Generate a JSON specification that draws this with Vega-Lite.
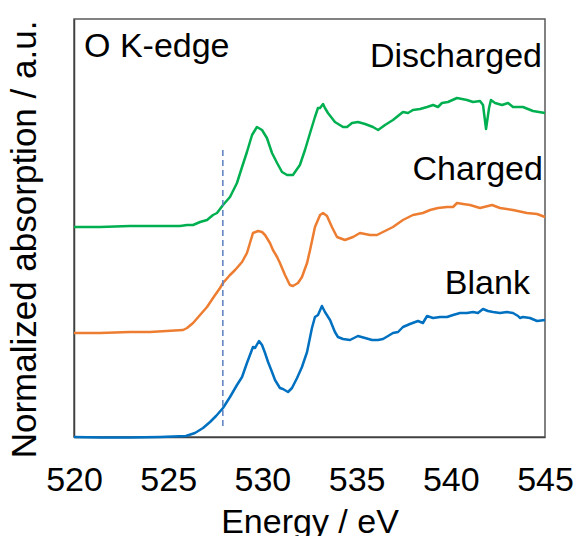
{
  "$schema": "https://vega.github.io/schema/vega-lite/v6.json",
  "width": 471,
  "height": 418,
  "autosize": {"type": "none"},
  "padding": {"left": 74, "top": 19, "right": 32, "bottom": 99},
  "background": "white",
  "config": {
    "font": "Liberation Sans",
    "view": {"stroke": "#595959", "strokeWidth": 1.5}
  },
  "datasets": {
    "curves": [
      {"series": "Blank", "e": 520.00, "v": 0.00},
      {"series": "Blank", "e": 521.38, "v": -0.005},
      {"series": "Blank", "e": 522.97, "v": -0.005},
      {"series": "Blank", "e": 524.56, "v": 0.00},
      {"series": "Blank", "e": 525.94, "v": 0.01},
      {"series": "Blank", "e": 526.42, "v": 0.04},
      {"series": "Blank", "e": 526.85, "v": 0.09},
      {"series": "Blank", "e": 527.22, "v": 0.15},
      {"series": "Blank", "e": 527.54, "v": 0.21},
      {"series": "Blank", "e": 527.91, "v": 0.29},
      {"series": "Blank", "e": 528.28, "v": 0.40},
      {"series": "Blank", "e": 528.65, "v": 0.52},
      {"series": "Blank", "e": 528.92, "v": 0.60},
      {"series": "Blank", "e": 529.18, "v": 0.74},
      {"series": "Blank", "e": 529.34, "v": 0.82},
      {"series": "Blank", "e": 529.50, "v": 0.90},
      {"series": "Blank", "e": 529.61, "v": 0.89},
      {"series": "Blank", "e": 529.82, "v": 0.96},
      {"series": "Blank", "e": 529.98, "v": 0.92},
      {"series": "Blank", "e": 530.14, "v": 0.84},
      {"series": "Blank", "e": 530.30, "v": 0.75},
      {"series": "Blank", "e": 530.51, "v": 0.65},
      {"series": "Blank", "e": 530.67, "v": 0.57},
      {"series": "Blank", "e": 530.93, "v": 0.49},
      {"series": "Blank", "e": 531.09, "v": 0.48},
      {"series": "Blank", "e": 531.36, "v": 0.45},
      {"series": "Blank", "e": 531.57, "v": 0.49},
      {"series": "Blank", "e": 531.84, "v": 0.59},
      {"series": "Blank", "e": 532.10, "v": 0.70},
      {"series": "Blank", "e": 532.37, "v": 0.85},
      {"series": "Blank", "e": 532.63, "v": 1.09},
      {"series": "Blank", "e": 532.79, "v": 1.20},
      {"series": "Blank", "e": 532.95, "v": 1.22},
      {"series": "Blank", "e": 533.16, "v": 1.31},
      {"series": "Blank", "e": 533.32, "v": 1.25},
      {"series": "Blank", "e": 533.59, "v": 1.17},
      {"series": "Blank", "e": 533.85, "v": 1.05},
      {"series": "Blank", "e": 534.01, "v": 1.00},
      {"series": "Blank", "e": 534.28, "v": 0.98},
      {"series": "Blank", "e": 534.65, "v": 0.97},
      {"series": "Blank", "e": 535.07, "v": 1.01},
      {"series": "Blank", "e": 535.45, "v": 0.99},
      {"series": "Blank", "e": 535.82, "v": 0.97},
      {"series": "Blank", "e": 536.14, "v": 0.97},
      {"series": "Blank", "e": 536.40, "v": 0.98},
      {"series": "Blank", "e": 536.67, "v": 1.01},
      {"series": "Blank", "e": 536.93, "v": 1.04},
      {"series": "Blank", "e": 537.20, "v": 1.05},
      {"series": "Blank", "e": 537.46, "v": 1.10},
      {"series": "Blank", "e": 537.83, "v": 1.13},
      {"series": "Blank", "e": 538.26, "v": 1.16},
      {"series": "Blank", "e": 538.52, "v": 1.14},
      {"series": "Blank", "e": 538.74, "v": 1.21},
      {"series": "Blank", "e": 539.06, "v": 1.19},
      {"series": "Blank", "e": 539.43, "v": 1.20},
      {"series": "Blank", "e": 539.80, "v": 1.20},
      {"series": "Blank", "e": 540.12, "v": 1.22},
      {"series": "Blank", "e": 540.49, "v": 1.24},
      {"series": "Blank", "e": 540.86, "v": 1.24},
      {"series": "Blank", "e": 541.18, "v": 1.25},
      {"series": "Blank", "e": 541.44, "v": 1.24},
      {"series": "Blank", "e": 541.71, "v": 1.28},
      {"series": "Blank", "e": 541.97, "v": 1.26},
      {"series": "Blank", "e": 542.24, "v": 1.25},
      {"series": "Blank", "e": 542.61, "v": 1.24},
      {"series": "Blank", "e": 542.98, "v": 1.25},
      {"series": "Blank", "e": 543.30, "v": 1.24},
      {"series": "Blank", "e": 543.57, "v": 1.21},
      {"series": "Blank", "e": 543.67, "v": 1.19},
      {"series": "Blank", "e": 543.83, "v": 1.20},
      {"series": "Blank", "e": 544.20, "v": 1.19},
      {"series": "Blank", "e": 544.58, "v": 1.16},
      {"series": "Blank", "e": 545.00, "v": 1.17},

      {"series": "Charged", "e": 520.00, "v": 1.04},
      {"series": "Charged", "e": 521.38, "v": 1.04},
      {"series": "Charged", "e": 522.97, "v": 1.05},
      {"series": "Charged", "e": 524.03, "v": 1.05},
      {"series": "Charged", "e": 525.79, "v": 1.07},
      {"series": "Charged", "e": 526.00, "v": 1.09},
      {"series": "Charged", "e": 526.32, "v": 1.14},
      {"series": "Charged", "e": 526.69, "v": 1.22},
      {"series": "Charged", "e": 527.06, "v": 1.30},
      {"series": "Charged", "e": 527.38, "v": 1.39},
      {"series": "Charged", "e": 527.75, "v": 1.49},
      {"series": "Charged", "e": 527.91, "v": 1.54},
      {"series": "Charged", "e": 528.28, "v": 1.62},
      {"series": "Charged", "e": 528.55, "v": 1.67},
      {"series": "Charged", "e": 528.92, "v": 1.75},
      {"series": "Charged", "e": 529.18, "v": 1.84},
      {"series": "Charged", "e": 529.34, "v": 1.94},
      {"series": "Charged", "e": 529.50, "v": 2.04},
      {"series": "Charged", "e": 529.77, "v": 2.06},
      {"series": "Charged", "e": 529.98, "v": 2.05},
      {"series": "Charged", "e": 530.14, "v": 2.02},
      {"series": "Charged", "e": 530.40, "v": 1.94},
      {"series": "Charged", "e": 530.56, "v": 1.87},
      {"series": "Charged", "e": 530.78, "v": 1.80},
      {"series": "Charged", "e": 530.93, "v": 1.74},
      {"series": "Charged", "e": 531.20, "v": 1.62},
      {"series": "Charged", "e": 531.46, "v": 1.52},
      {"series": "Charged", "e": 531.62, "v": 1.51},
      {"series": "Charged", "e": 531.89, "v": 1.54},
      {"series": "Charged", "e": 532.10, "v": 1.60},
      {"series": "Charged", "e": 532.37, "v": 1.74},
      {"series": "Charged", "e": 532.53, "v": 1.87},
      {"series": "Charged", "e": 532.79, "v": 2.10},
      {"series": "Charged", "e": 533.06, "v": 2.22},
      {"series": "Charged", "e": 533.22, "v": 2.24},
      {"series": "Charged", "e": 533.43, "v": 2.21},
      {"series": "Charged", "e": 533.69, "v": 2.10},
      {"series": "Charged", "e": 533.96, "v": 2.00},
      {"series": "Charged", "e": 534.38, "v": 1.97},
      {"series": "Charged", "e": 534.81, "v": 2.00},
      {"series": "Charged", "e": 535.18, "v": 2.04},
      {"series": "Charged", "e": 535.71, "v": 2.02},
      {"series": "Charged", "e": 536.08, "v": 2.02},
      {"series": "Charged", "e": 536.40, "v": 2.05},
      {"series": "Charged", "e": 536.93, "v": 2.10},
      {"series": "Charged", "e": 537.46, "v": 2.17},
      {"series": "Charged", "e": 537.99, "v": 2.22},
      {"series": "Charged", "e": 538.52, "v": 2.24},
      {"series": "Charged", "e": 538.90, "v": 2.27},
      {"series": "Charged", "e": 539.32, "v": 2.29},
      {"series": "Charged", "e": 539.80, "v": 2.30},
      {"series": "Charged", "e": 540.12, "v": 2.30},
      {"series": "Charged", "e": 540.33, "v": 2.34},
      {"series": "Charged", "e": 540.65, "v": 2.33},
      {"series": "Charged", "e": 541.02, "v": 2.32},
      {"series": "Charged", "e": 541.55, "v": 2.29},
      {"series": "Charged", "e": 542.19, "v": 2.32},
      {"series": "Charged", "e": 542.61, "v": 2.29},
      {"series": "Charged", "e": 543.30, "v": 2.27},
      {"series": "Charged", "e": 544.04, "v": 2.24},
      {"series": "Charged", "e": 544.58, "v": 2.23},
      {"series": "Charged", "e": 545.00, "v": 2.20},

      {"series": "Discharged", "e": 520.00, "v": 2.10},
      {"series": "Discharged", "e": 521.38, "v": 2.10},
      {"series": "Discharged", "e": 522.97, "v": 2.11},
      {"series": "Discharged", "e": 524.56, "v": 2.11},
      {"series": "Discharged", "e": 525.63, "v": 2.11},
      {"series": "Discharged", "e": 526.00, "v": 2.12},
      {"series": "Discharged", "e": 526.32, "v": 2.12},
      {"series": "Discharged", "e": 526.69, "v": 2.15},
      {"series": "Discharged", "e": 527.06, "v": 2.17},
      {"series": "Discharged", "e": 527.38, "v": 2.22},
      {"series": "Discharged", "e": 527.59, "v": 2.24},
      {"series": "Discharged", "e": 527.91, "v": 2.32},
      {"series": "Discharged", "e": 528.28, "v": 2.40},
      {"series": "Discharged", "e": 528.65, "v": 2.54},
      {"series": "Discharged", "e": 528.92, "v": 2.70},
      {"series": "Discharged", "e": 529.18, "v": 2.85},
      {"series": "Discharged", "e": 529.45, "v": 3.02},
      {"series": "Discharged", "e": 529.71, "v": 3.10},
      {"series": "Discharged", "e": 529.98, "v": 3.07},
      {"series": "Discharged", "e": 530.24, "v": 2.99},
      {"series": "Discharged", "e": 530.51, "v": 2.84},
      {"series": "Discharged", "e": 530.78, "v": 2.74},
      {"series": "Discharged", "e": 531.04, "v": 2.65},
      {"series": "Discharged", "e": 531.31, "v": 2.62},
      {"series": "Discharged", "e": 531.62, "v": 2.62},
      {"series": "Discharged", "e": 531.99, "v": 2.72},
      {"series": "Discharged", "e": 532.26, "v": 2.87},
      {"series": "Discharged", "e": 532.53, "v": 3.04},
      {"series": "Discharged", "e": 532.79, "v": 3.20},
      {"series": "Discharged", "e": 532.95, "v": 3.29},
      {"series": "Discharged", "e": 533.06, "v": 3.29},
      {"series": "Discharged", "e": 533.22, "v": 3.33},
      {"series": "Discharged", "e": 533.32, "v": 3.29},
      {"series": "Discharged", "e": 533.48, "v": 3.24},
      {"series": "Discharged", "e": 533.85, "v": 3.15},
      {"series": "Discharged", "e": 534.28, "v": 3.10},
      {"series": "Discharged", "e": 534.49, "v": 3.10},
      {"series": "Discharged", "e": 534.76, "v": 3.14},
      {"series": "Discharged", "e": 535.07, "v": 3.15},
      {"series": "Discharged", "e": 535.45, "v": 3.13},
      {"series": "Discharged", "e": 535.87, "v": 3.10},
      {"series": "Discharged", "e": 536.14, "v": 3.07},
      {"series": "Discharged", "e": 536.51, "v": 3.12},
      {"series": "Discharged", "e": 536.93, "v": 3.17},
      {"series": "Discharged", "e": 537.46, "v": 3.25},
      {"series": "Discharged", "e": 537.73, "v": 3.24},
      {"series": "Discharged", "e": 537.99, "v": 3.27},
      {"series": "Discharged", "e": 538.37, "v": 3.28},
      {"series": "Discharged", "e": 538.74, "v": 3.30},
      {"series": "Discharged", "e": 539.06, "v": 3.32},
      {"series": "Discharged", "e": 539.32, "v": 3.30},
      {"series": "Discharged", "e": 539.53, "v": 3.34},
      {"series": "Discharged", "e": 539.85, "v": 3.35},
      {"series": "Discharged", "e": 540.33, "v": 3.39},
      {"series": "Discharged", "e": 540.86, "v": 3.37},
      {"series": "Discharged", "e": 541.18, "v": 3.35},
      {"series": "Discharged", "e": 541.55, "v": 3.36},
      {"series": "Discharged", "e": 541.71, "v": 3.32},
      {"series": "Discharged", "e": 541.87, "v": 3.08},
      {"series": "Discharged", "e": 542.03, "v": 3.29},
      {"series": "Discharged", "e": 542.13, "v": 3.37},
      {"series": "Discharged", "e": 542.35, "v": 3.34},
      {"series": "Discharged", "e": 542.72, "v": 3.32},
      {"series": "Discharged", "e": 543.04, "v": 3.34},
      {"series": "Discharged", "e": 543.30, "v": 3.30},
      {"series": "Discharged", "e": 543.83, "v": 3.30},
      {"series": "Discharged", "e": 544.36, "v": 3.26},
      {"series": "Discharged", "e": 545.00, "v": 3.24}
    ],
    "marker": [
      {"e": 527.9, "y1": 0.11, "y2": 2.90}
    ],
    "labels": [
      {"label": "O K-edge", "e": 520.53, "v": 3.80, "side": "left"},
      {"label": "Discharged", "e": 544.84, "v": 3.70, "side": "right"},
      {"label": "Charged", "e": 544.89, "v": 2.57, "side": "right"},
      {"label": "Blank", "e": 544.20, "v": 1.43, "side": "right"}
    ]
  },
  "layer": [
    {
      "data": {"name": "curves"},
      "mark": {"type": "line", "strokeWidth": 2.5, "strokeJoin": "round", "clip": false},
      "encoding": {
        "x": {
          "field": "e", "type": "quantitative",
          "scale": {"domain": [520, 545], "nice": false, "zero": false},
          "axis": {
            "title": "Energy / eV",
            "values": [520, 525, 530, 535, 540, 545],
            "grid": false, "ticks": false, "tickSize": 0,
            "labelFontSize": 34, "labelColor": "black", "labelFlush": false,
            "labelOverlap": false, "labelBound": false, "labelPadding": 26,
            "titleFontSize": 34, "titleFontWeight": "normal", "titleColor": "black",
            "titlePadding": 8,
            "domainColor": "#404040", "domainWidth": 1.5
          }
        },
        "y": {
          "field": "v", "type": "quantitative",
          "scale": {"domain": [0, 4.18], "nice": false, "zero": false},
          "axis": {
            "title": "Normalized absorption / a.u.",
            "labels": false, "ticks": false, "grid": false,
            "titleFontSize": 35, "titleFontWeight": "normal", "titleColor": "black",
            "titleX": -32, "titleY": 220,
            "domainColor": "#404040", "domainWidth": 1.5
          }
        },
        "color": {
          "field": "series", "type": "nominal",
          "scale": {"domain": ["Blank", "Charged", "Discharged"], "range": ["#0070C0", "#ED7D31", "#00B050"]},
          "legend": null
        }
      }
    },
    {
      "data": {"name": "marker"},
      "mark": {"type": "rule", "color": "#5B7FC0", "strokeWidth": 1.5, "strokeDash": [6, 4]},
      "encoding": {
        "x": {"field": "e", "type": "quantitative"},
        "y": {"field": "y1", "type": "quantitative"},
        "y2": {"field": "y2"}
      }
    },
    {
      "data": {"name": "labels"},
      "transform": [{"filter": "datum.side === 'left'"}],
      "mark": {"type": "text", "align": "left", "baseline": "alphabetic", "fontSize": 34, "color": "black"},
      "encoding": {
        "x": {"field": "e", "type": "quantitative"},
        "y": {"field": "v", "type": "quantitative"},
        "text": {"field": "label"}
      }
    },
    {
      "data": {"name": "labels"},
      "transform": [{"filter": "datum.side === 'right'"}],
      "mark": {"type": "text", "align": "right", "baseline": "alphabetic", "fontSize": 34, "color": "black"},
      "encoding": {
        "x": {"field": "e", "type": "quantitative"},
        "y": {"field": "v", "type": "quantitative"},
        "text": {"field": "label"}
      }
    }
  ]
}
